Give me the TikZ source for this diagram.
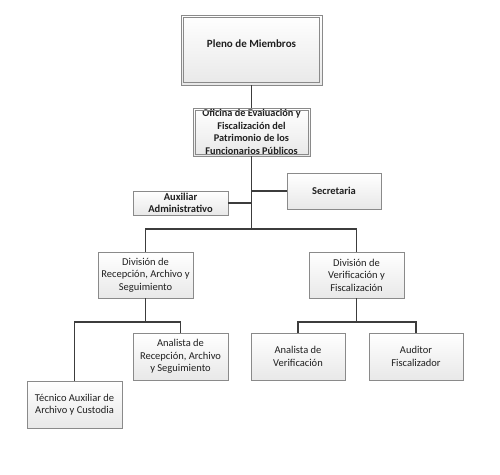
\documentclass[tikz,border=0pt]{standalone}
\usepackage{fontspec}
\setmainfont{Carlito}
\usetikzlibrary{shadows}
\definecolor{boxline}{HTML}{8A8A8A}
\definecolor{conn}{HTML}{3C3C3C}
\definecolor{txt}{HTML}{202020}
\tikzset{
  orgbox/.style={draw=boxline, line width=0.8pt, top color=white, bottom color=black!9,
    drop shadow={shadow xshift=1.2pt, shadow yshift=-1.2pt, opacity=0.35},
    align=center, inner sep=1pt, text=txt, font=\fontsize{10.5}{12.5}\selectfont},
  conline/.style={draw=conn, line width=1.4pt},
  inner/.style={draw=boxline, line width=0.8pt}
}
\begin{document}
\begin{tikzpicture}[x=1pt,y=-1pt]
\useasboundingbox (0,0) rectangle (500,474);
\node[orgbox, minimum width=141pt, minimum height=70pt, text depth=12pt, font=\fontsize{11}{12.5}\selectfont\bfseries] (pleno) at (251.5,50) {Pleno de Miembros};
\node[orgbox, minimum width=117pt, minimum height=48pt, inner sep=0pt, font=\fontsize{10.3}{12.5}\selectfont\bfseries] (oficina) at (251.5,132) {Oficina de Evaluación y\\Fiscalización del\\Patrimonio de los\\Funcionarios Públicos};
\draw[inner] ([shift={(3pt,-3pt)}]pleno.north west) rectangle ([shift={(-3pt,3pt)}]pleno.south east);
\draw[inner] ([shift={(2.5pt,-2.5pt)}]oficina.north west) rectangle ([shift={(-2.5pt,2.5pt)}]oficina.south east);
\node[orgbox, minimum width=95pt, minimum height=24pt, inner sep=0pt, font=\fontsize{10.5}{12}\selectfont\bfseries] (aux) at (180.5,203) {Auxiliar\\Administrativo};
\node[orgbox, minimum width=94pt, minimum height=36pt, font=\fontsize{10.5}{12}\selectfont\bfseries] (secre) at (334,191) {Secretaria};
\node[orgbox, minimum width=95pt, minimum height=46pt] (divrec) at (145.5,275) {División de\\Recepción, Archivo y\\Seguimiento};
\node[orgbox, minimum width=95pt, minimum height=46pt] (divver) at (356.5,275) {División de\\Verificación y\\Fiscalización};
\node[orgbox, minimum width=95pt, minimum height=47pt] (anarec) at (180.5,356.5) {Analista de\\Recepción, Archivo\\y Seguimiento};
\node[orgbox, minimum width=95pt, minimum height=47pt] (tec) at (74.5,404.5) {Técnico Auxiliar de\\Archivo y Custodia};
\node[orgbox, minimum width=94pt, minimum height=47pt] (anaver) at (298,356.5) {Analista de\\Verificación};
\node[orgbox, minimum width=94pt, minimum height=47pt] (audit) at (416,356.5) {Auditor\\Fiscalizador};
\coordinate (bar) at (251.5,229);
\coordinate (barrec) at (145.5,322);
\coordinate (barver) at (356.5,322);
\draw[conline] (pleno.south) -- (oficina.north);
\draw[conline] (oficina.south) -- (bar);
\draw[conline] (aux.east) -- (aux.east -| bar);
\draw[conline] (secre.west) -- (secre.west -| bar);
\draw[conline] (divrec.north) |- (bar) -| (divver.north);
\draw[conline] (divrec.south) -- (barrec);
\draw[conline] (tec.north) |- (barrec) -| (anarec.north);
\draw[conline] (divver.south) -- (barver);
\draw[conline] (anaver.north) |- (barver) -| (audit.north);
\end{tikzpicture}
\end{document}
